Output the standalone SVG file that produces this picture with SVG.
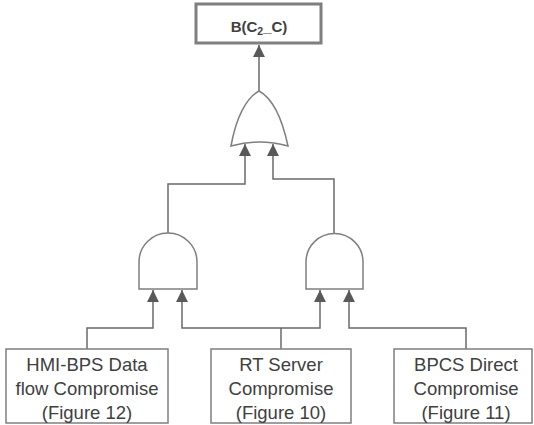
<svg xmlns="http://www.w3.org/2000/svg" width="534" height="425" viewBox="0 0 534 425">
<defs>
<style>
.box{fill:#fff;stroke:#7f7f7f;stroke-width:1.5}
.top{fill:#fff;stroke:#7f7f7f;stroke-width:3}
.gate{fill:#fff;stroke:#7f7f7f;stroke-width:1.5}
.conn{fill:none;stroke:#6a6a6a;stroke-width:1.5}
.lbl{font-family:"Liberation Sans",Arial,sans-serif;font-size:18.5px;fill:#404040;text-anchor:middle}
.tl{font-family:"Liberation Sans",Arial,sans-serif;font-size:15px;font-weight:bold;fill:#404040;text-anchor:middle}
</style>
<marker id="ah" markerUnits="userSpaceOnUse" markerWidth="13" markerHeight="13" viewBox="0 0 12 12" refX="11" refY="6" orient="auto">
<path d="M0,0.5 L11,6 L0,11.5 Z" fill="#595959"/>
</marker>
</defs>
<g id="connectors">
<path class="conn" d="M259,91 V45" marker-end="url(#ah)"/>
<path class="conn" d="M168,233 V184 H245 V144" marker-end="url(#ah)"/>
<path class="conn" d="M334,233 V179 H273 V144" marker-end="url(#ah)"/>
<path class="conn" d="M87,349 V328 H153 V290" marker-end="url(#ah)"/>
<path class="conn" d="M281,349 V328"/>
<path class="conn" d="M281,328 H182 V290" marker-end="url(#ah)"/>
<path class="conn" d="M281,328 H320 V290" marker-end="url(#ah)"/>
<path class="conn" d="M466,349 V328 H349 V290" marker-end="url(#ah)"/>
</g>
<g id="top-event">
<rect class="top" x="196" y="4" width="125" height="39"/>
<text class="tl" x="259" y="32">B(C<tspan font-size="10.5" dy="3">2</tspan><tspan dy="-3">_C)</tspan></text>
</g>
<g id="or-gate">
<path class="gate" d="M231,146 C236,118 246,98 259,91 C272,98 282,118 288,146 Q259,138 231,146 Z"/>
</g>
<g id="and-gate-left">
<path class="gate" d="M139,289 V262 A29,29 0 0 1 197,262 V289 Z"/>
</g>
<g id="and-gate-right">
<path class="gate" d="M306,289 V262 A28.5,28.5 0 0 1 363,262 V289 Z"/>
</g>
<g id="hmi-bps">
<rect class="box" x="6" y="349" width="162" height="74"/>
<text class="lbl" x="87" y="371">HMI-BPS Data</text>
<text class="lbl" x="87" y="395">flow Compromise</text>
<text class="lbl" x="87" y="419">(Figure 12)</text>
</g>
<g id="rt-server">
<rect class="box" x="211" y="349" width="140" height="74"/>
<text class="lbl" x="281" y="371">RT Server</text>
<text class="lbl" x="281" y="395">Compromise</text>
<text class="lbl" x="281" y="419">(Figure 10)</text>
</g>
<g id="bpcs-direct">
<rect class="box" x="394" y="349" width="138" height="74"/>
<text class="lbl" x="466" y="371">BPCS Direct</text>
<text class="lbl" x="466" y="395">Compromise</text>
<text class="lbl" x="466" y="419">(Figure 11)</text>
</g>
</svg>
